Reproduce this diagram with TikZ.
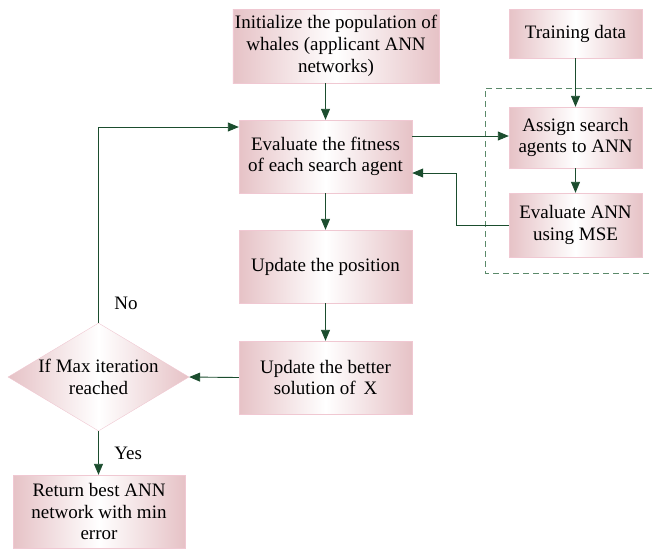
\documentclass[tikz,border=0pt]{standalone}
\usepackage{fontspec}
\setmainfont{Liberation Serif}
\usetikzlibrary{shapes.geometric, calc, positioning, arrows.meta}

\definecolor{boxpink}{RGB}{230,194,198}
\definecolor{boxline}{RGB}{240,200,210}
\definecolor{flowgreen}{RGB}{27,77,46}
\definecolor{dashgreen}{RGB}{90,138,106}

\tikzset{
    stepbox/.style={rectangle, draw=boxline, left color=boxpink, right color=boxpink, middle color=white,
        align=center, inner sep=2pt, font=\fontsize{19}{21.7}\selectfont},
    testbox/.style={diamond, draw=boxline, left color=boxpink, right color=boxpink, middle color=white,
        align=center, inner sep=0pt, aspect=1.67, font=\fontsize{19}{21.7}\selectfont},
    flow/.style={draw=flowgreen, line width=0.9pt, -{Triangle[length=11pt, width=9pt]}},
    lbl/.style={font=\fontsize{19}{21.7}\selectfont}
}

\begin{document}
\begin{tikzpicture}[x=1pt, y=-1pt]
    \useasboundingbox (0,0) rectangle (652,550);
    % boxes
    \node[stepbox, minimum width=200pt, minimum height=74pt](Init) at (336,46) {Initialize the population of\\whales (applicant ANN\\networks)};
    \node[stepbox, minimum width=173pt, minimum height=73pt](Eval) at (325.5,156.5) {Evaluate the fitness\\of each search agent};
    \node[stepbox, minimum width=173pt, minimum height=73pt](UpdPos) at (325.5,266.5) {Update the position};
    \node[stepbox, minimum width=173pt, minimum height=73pt](UpdBest) at (325.5,377.5) {Update the better\\solution of\, X};
    \node[testbox, minimum width=181pt, minimum height=108pt](MaxIt) at (98.5,377) {If Max iteration\\reached};
    \node[stepbox, minimum width=172pt, minimum height=73pt](Return) at (99,511.5) {Return best ANN\\network with min\\error};
    \node[stepbox, minimum width=133pt, minimum height=49pt](Train) at (575.5,33.5) {Training data};
    \node[stepbox, minimum width=133pt, minimum height=61pt](Assign) at (575.5,137.5) {Assign search\\agents to ANN};
    \node[stepbox, minimum width=133pt, minimum height=64pt](EvalANN) at (575.5,225) {Evaluate ANN\\using MSE};
    % dashed group
    \draw[dashgreen, dashed, line width=0.8pt, dash pattern=on 6pt off 4pt] (652,88) -- (485,88) -- (485,273) -- (652,273);
    % connectors
    \draw[flow] (Eval.north |- Init.south) -- (Eval.north);
    \draw[flow] (Eval.south) -- (UpdPos.north);
    \draw[flow] (UpdPos.south) -- (UpdBest.north);
    \draw[flow] (UpdBest.west) -- (MaxIt.east);
    \draw[flow] (MaxIt.south) -- (Return.north -| MaxIt.south) node[midway, right, lbl, xshift=12pt] {Yes};
    \draw[flow] (MaxIt.north) -- (MaxIt.north |- 0,127) node[pos=0.1, right, lbl, xshift=12pt] {No} -- ($(Eval.west)+(0,-29.5)$);
    \draw[flow] (Train.south -| Assign.north) -- (Assign.north);
    \draw[flow] (Assign.south) -- (EvalANN.north);
    \draw[flow] ($(Eval.east)+(0,-20.5)$) -- (Assign.west |- 0,136);
    \draw[flow] (EvalANN.west) -- (456,225) -- (456,173) -- (Eval.east |- 0,173);
\end{tikzpicture}
\end{document}
